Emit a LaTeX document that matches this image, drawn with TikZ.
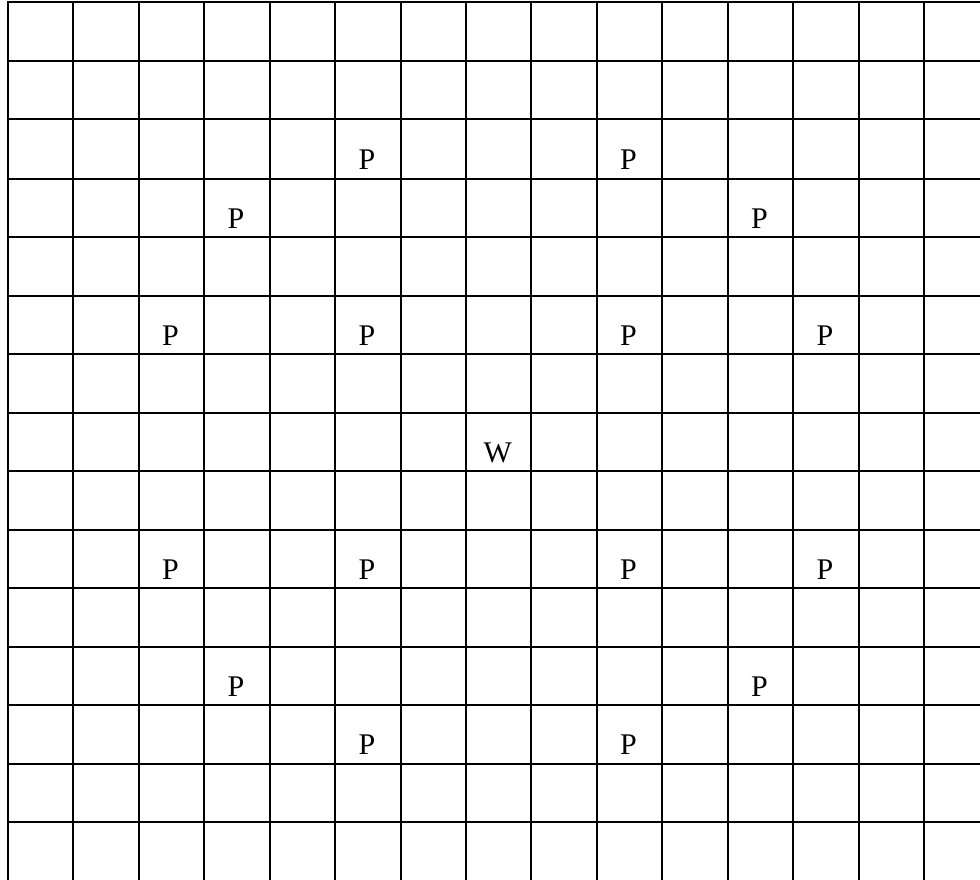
\documentclass[tikz,border=0pt]{standalone}
\usepackage{fontspec}
\setmainfont{Liberation Serif}
\begin{document}
\begin{tikzpicture}[x=1pt,y=-1pt,
  gridline/.style={line width=2pt},
  lbl/.style={font=\fontsize{30}{36}\selectfont, anchor=base, inner sep=0pt}]
\useasboundingbox (0,0) rectangle (980,880);
\foreach \i in {0,...,14} \draw[gridline] ({round(7+65.43*\i)+0.5},2) -- ({round(7+65.43*\i)+0.5},880);
\foreach \j in {0,...,14} \draw[gridline] (7,{round(2+58.53*\j)+0.5}) -- (980,{round(2+58.53*\j)+0.5});
\foreach \c/\r/\t/\n in {5/2/P/pa, 9/2/P/pb, 3/3/P/pc, 11/3/P/pd,
  2/5/P/pe, 5/5/P/pf, 9/5/P/pg, 12/5/P/ph, 7/7/W/w,
  2/9/P/pi, 5/9/P/pj, 9/9/P/pk, 12/9/P/pl,
  3/11/P/pm, 11/11/P/pn, 5/12/P/po, 9/12/P/pp}
  \node[lbl] (\n) at ({7+65.43*(\c+0.5)},{2+58.53*(\r+1)-8}) {\t};
\end{tikzpicture}
\end{document}
